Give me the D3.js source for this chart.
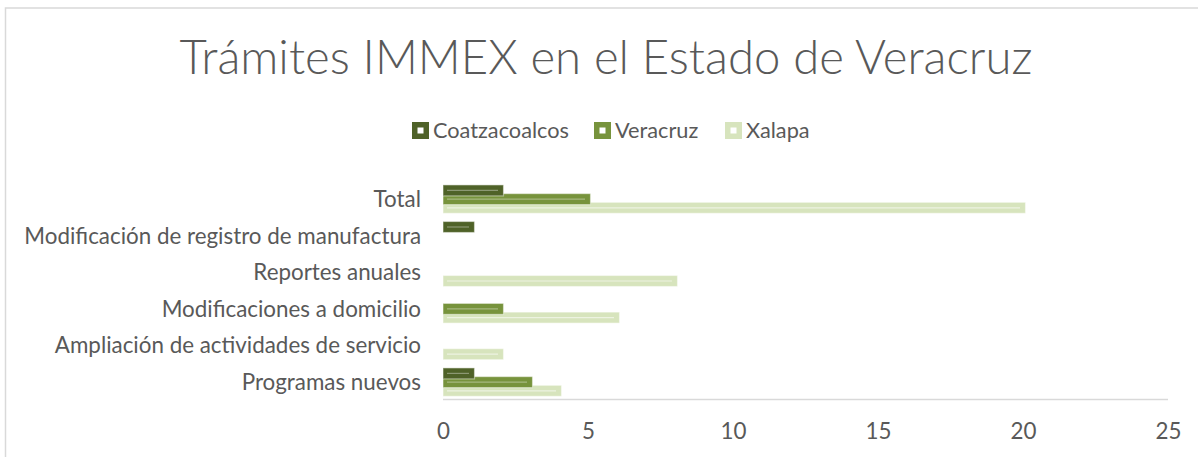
<!DOCTYPE html>
<html><head><meta charset="utf-8">
<script src="https://cdn.jsdelivr.net/npm/d3@7"></script>
<style>html,body{margin:0;padding:0;background:#fff;overflow:hidden}svg{display:block}</style>
</head><body>
<svg id="chart" width="1198" height="457"></svg>
<script>
const title = "Trámites IMMEX en el Estado de Veracruz";
const categories = ["Total","Modificación de registro de manufactura","Reportes anuales","Modificaciones a domicilio","Ampliación de actividades de servicio","Programas nuevos"];
const seriesNames = ["Coatzacoalcos","Veracruz","Xalapa"];
const coatzacoalcos = [2,1,0,0,0,1];
const veracruz = [5,0,0,2,0,3];
const xalapa = [20,0,8,6,2,4];
const xTicks = [0,5,10,15,20,25];
const colors = ["#4f6228","#77933c","#d7e4bd"];
const innerLine = ["rgba(255,255,255,0.35)","rgba(255,255,255,0.35)","rgba(255,255,255,0.55)"];
const seriesValues = [coatzacoalcos, veracruz, xalapa];

const FONT = "Lato, 'Open Sans', sans-serif";
const TXT = "#595959";
const svg = d3.select("#chart");

// fit a font size so that a text node reaches a target width
function fitSize(sel, base, target) {
  const w = sel.node().getComputedTextLength();
  return w > 0 ? base * target / w : base;
}

// chart border
svg.append("rect").attr("x",5.5).attr("y",8).attr("width",1200).attr("height",460)
  .attr("fill","none").attr("stroke","#d9d9d9").attr("stroke-width",1.5);

// title
const t = svg.append("text").attr("x",606).attr("y",74).attr("text-anchor","middle")
  .attr("font-family",FONT).attr("font-weight",300).attr("font-size",44).attr("fill",TXT).text(title);
t.attr("font-size", fitSize(t,44,853));

const x = d3.scaleLinear().domain([0,25]).range([443,1168]);
const y = d3.scaleBand().domain(categories).range([180.8,400.4]).paddingInner(0);
const sub = d3.scalePoint().domain(seriesNames).range([-8.7,8.7]);
const barH = 11;

// x axis line
svg.append("line").attr("x1",x(0)).attr("x2",x(25)).attr("y1",399.5).attr("y2",399.5)
  .attr("stroke","#d9d9d9").attr("stroke-width",1.5);

// category labels via axis
const yaxis = d3.axisLeft(y).tickSize(0).tickPadding(0);
const ay = svg.append("g").attr("transform","translate(421,0)").call(yaxis);
ay.select(".domain").remove();
ay.selectAll("text").attr("dy","0.35em").attr("font-family",FONT).attr("font-size",20).attr("fill",TXT);
const longest = ay.selectAll("text").filter(d => d === categories[1]);
const labSize = fitSize(longest,20,397);
ay.selectAll("text").attr("font-size",labSize);

// tick labels via axis
const axis = d3.axisBottom(x).tickValues(xTicks).tickSize(0).tickPadding(0).tickFormat(d3.format("d"));
const ax = svg.append("g").attr("transform","translate(0,439)").call(axis);
ax.select(".domain").remove();
ax.selectAll("text").attr("dy",0).attr("font-family",FONT).attr("font-size",labSize).attr("fill",TXT);

// bars: drawn in reverse order so first series is on top
const rows = [];
for (let s = seriesNames.length-1; s >= 0; s--) {
  categories.forEach((c,i) => {
    const v = seriesValues[s][i];
    if (v > 0) rows.push({s, c, v});
  });
}
const g = svg.append("g");
rows.forEach(d => {
  const cy = y(d.c) + y.bandwidth()/2 + sub(seriesNames[d.s]);
  g.append("rect").attr("x",x(0)).attr("y",cy-barH/2)
    .attr("width",x(d.v)-x(0)+2.5).attr("height",barH)
    .attr("fill",colors[d.s]).attr("stroke","rgba(255,255,255,0.45)").attr("stroke-width",1.2);
  g.append("line").attr("x1",x(0)+4).attr("x2",x(d.v)-3).attr("y1",cy).attr("y2",cy)
    .attr("stroke",innerLine[d.s]).attr("stroke-width",1.2);
});

// legend
const legX = [412,594,725];
const leg = svg.append("g");
const legTexts = [];
seriesNames.forEach((n,i) => {
  leg.append("rect").attr("x",legX[i]).attr("y",122).attr("width",17).attr("height",17).attr("fill",colors[i]);
  leg.append("rect").attr("x",legX[i]+5.5).attr("y",127.5).attr("width",6).attr("height",6).attr("fill","#fff");
  legTexts.push(leg.append("text").attr("x",legX[i]+21).attr("y",138).attr("font-family",FONT).attr("font-size",20)
    .attr("fill",TXT).text(n));
});
const legSize = fitSize(legTexts[0],20,136);
legTexts.forEach(s => s.attr("font-size",legSize));
</script>
</body></html>
